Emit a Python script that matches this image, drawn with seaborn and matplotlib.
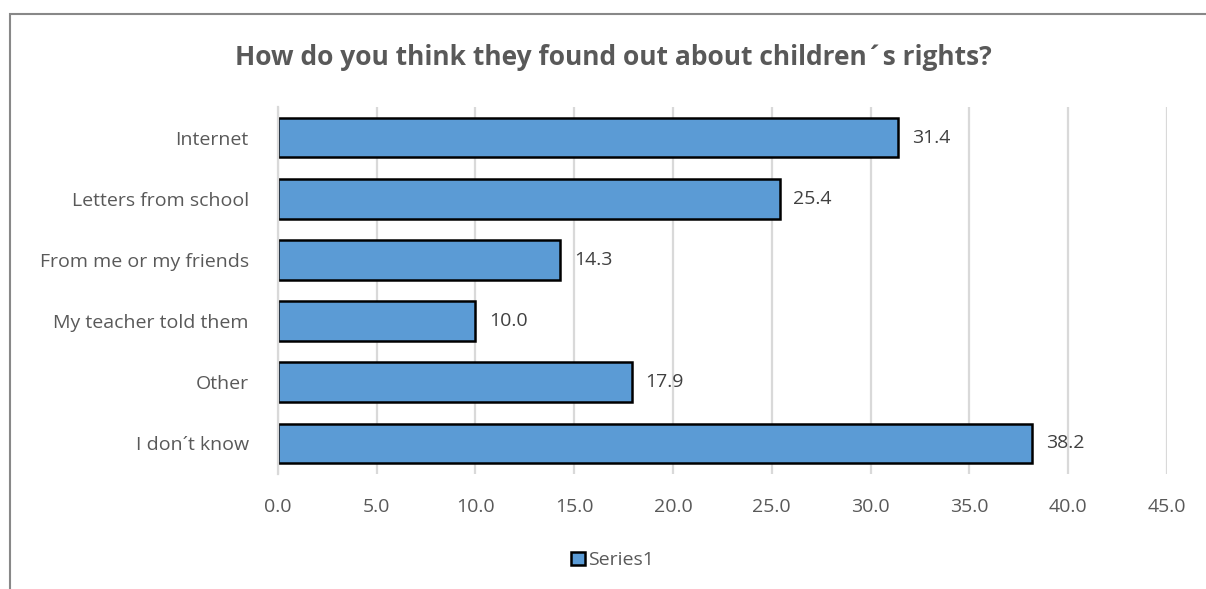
import pandas as pd
import matplotlib.pyplot as plt
import seaborn as sns
from matplotlib.patches import Patch, Rectangle

categories = ["Internet", "Letters from school", "From me or my friends",
              "My teacher told them", "Other", "I don\u00b4t know"]
values = [31.4, 25.4, 14.3, 10.0, 17.9, 38.2]
x_ticks = [0, 5, 10, 15, 20, 25, 30, 35, 40, 45]
series_name = "Series1"
title = "How do you think they found out about children\u00b4s rights?"

BAR_COLOR = "#5B9BD5"
TEXT_COLOR = "#595959"

df = pd.DataFrame({"category": categories, "value": values})

sns.set_theme(style="white")
plt.rcParams["font.family"] = ["Open Sans", "DejaVu Sans"]

fig = plt.figure(figsize=(12.06, 5.89), dpi=100)
ax = fig.add_axes([0.2305, 0.1952, 0.737, 0.6231])

sns.barplot(data=df, x="value", y="category", color=BAR_COLOR, width=0.65,
            edgecolor="black", linewidth=1.8, saturation=1, ax=ax)

ax.set_xlim(0, 45)
ax.set_ylim(5.5, -0.5)
ax.set_xticks(x_ticks)
ax.set_xticklabels([f"{t:.1f}" for t in x_ticks], color=TEXT_COLOR, fontsize=14)
ax.set_yticklabels(categories, color=TEXT_COLOR, fontsize=14)
ax.tick_params(axis="x", length=0, pad=17)
ax.tick_params(axis="y", length=0, pad=21)
ax.set_xlabel("")
ax.set_ylabel("")
ax.grid(axis="x", color="#D9D9D9", linewidth=1.6)
ax.set_axisbelow(True)
for s in ["top", "right", "bottom"]:
    ax.spines[s].set_visible(False)
ax.spines["left"].set_color("#D9D9D9")
ax.spines["left"].set_linewidth(1.6)

for i, v in enumerate(values):
    ax.text(v + 0.7, i, f"{v:.1f}", va="center", ha="left",
            color="#404040", fontsize=14)

fig.text(0.5087, 0.902, title, ha="center", va="center", fontsize=19,
         fontweight="bold", color=TEXT_COLOR)

handle = Patch(facecolor=BAR_COLOR, edgecolor="black", linewidth=1.8)
fig.legend([handle], [series_name], loc="center", bbox_to_anchor=(0.508, 0.049),
           frameon=False, fontsize=14, handlelength=0.7, handleheight=0.7,
           handletextpad=0.2, labelcolor=TEXT_COLOR)

# outer chart border (cropped on right and bottom)
fig.patches.append(Rectangle((10 / 1206, -0.05), 1.2, 1 - 14 / 589 + 0.05,
                             transform=fig.transFigure, fill=False,
                             edgecolor="#888888", linewidth=1.5))

fig.savefig("out.png", dpi=100)
